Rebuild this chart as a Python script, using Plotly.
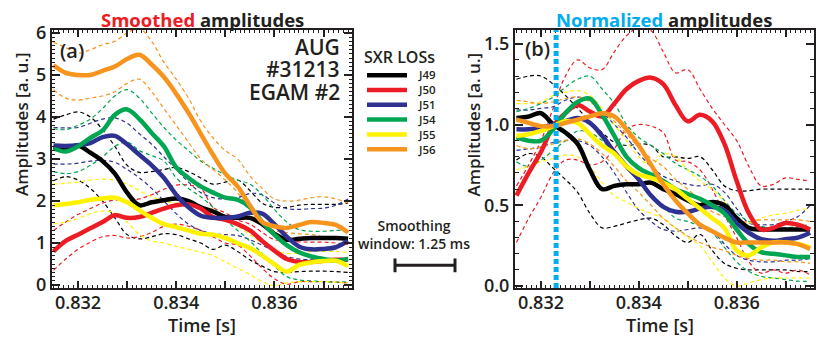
import plotly.graph_objects as go

# time base (s)
TIME = [0.8315, 0.83175, 0.832, 0.83225, 0.8325, 0.83275, 0.833, 0.83325, 0.8335,
        0.83375, 0.834, 0.83425, 0.8345, 0.83475, 0.835, 0.83525, 0.8355, 0.83575,
        0.836, 0.83625, 0.8365, 0.83675, 0.837, 0.83725, 0.8375]

CHANNELS = ["J49", "J50", "J51", "J54", "J55", "J56"]

# ---- (a) smoothed amplitudes: mean, upper, lower
SM_J49 = [3.28, 3.25, 3.32, 3.15, 2.95, 2.65, 2.2, 1.9, 1.97, 2.02, 2.06, 2.0, 1.85,
          1.75, 1.62, 1.6, 1.6, 1.45, 1.22, 1.08, 1.1, 1.12, 1.12, 1.12, 1.1]
SM_J49_HI = [3.95, 4.05, 4.12, 4.0, 3.7, 3.3, 2.85, 2.68, 2.7, 2.75, 2.8, 2.7, 2.55,
             2.4, 2.45, 2.5, 2.25, 1.95, 1.85, 1.85, 1.9, 1.92, 1.92, 1.92, 1.95]
SM_J49_LO = [2.48, 2.58, 2.5, 2.3, 2.0, 1.6, 1.2, 1.1, 1.15, 1.22, 1.2, 1.1, 1.0,
             0.85, 0.95, 0.8, 0.6, 0.45, 0.32, 0.3, 0.32, 0.33, 0.33, 0.32, 0.3]

SM_J50 = [0.8, 1.05, 1.2, 1.35, 1.5, 1.66, 1.6, 1.62, 1.72, 1.82, 1.9, 1.92, 1.82,
          1.62, 1.55, 1.45, 1.3, 1.05, 0.82, 0.62, 0.55, 0.55, 0.58, 0.6, 0.6]
SM_J50_HI = [1.3, 1.5, 1.68, 1.82, 1.95, 2.02, 2.0, 2.05, 2.15, 2.28, 2.38, 2.38, 2.3,
             1.85, 1.72, 1.55, 1.45, 1.25, 1.08, 1.05, 1.03, 1.02, 1.02, 1.0, 0.97]
SM_J50_LO = [0.35, 0.62, 0.85, 1.02, 1.15, 1.18, 1.12, 1.15, 1.25, 1.4, 1.45, 1.4, 1.3,
             1.15, 1.0, 0.95, 0.7, 0.4, 0.15, 0.02, 0.08, 0.08, 0.08, 0.07, 0.05]

SM_J51 = [3.32, 3.31, 3.33, 3.38, 3.52, 3.55, 3.35, 3.1, 2.85, 2.55, 2.15, 1.85, 1.65,
          1.6, 1.6, 1.63, 1.72, 1.7, 1.45, 1.15, 0.92, 0.85, 0.86, 0.9, 1.05]
SM_J51_HI = [3.75, 3.74, 3.75, 3.85, 3.95, 3.98, 3.85, 3.6, 3.35, 3.05, 2.75, 2.45, 2.2,
             2.08, 2.05, 2.08, 2.18, 2.15, 1.95, 1.82, 1.8, 1.82, 1.83, 1.9, 2.05]
SM_J51_LO = [2.88, 2.88, 2.9, 2.95, 2.97, 2.92, 2.75, 2.55, 2.3, 2.0, 1.7, 1.45, 1.3,
             1.22, 1.2, 1.18, 1.08, 0.95, 0.8, 0.68, 0.62, 0.6, 0.6, 0.62, 0.65]

SM_J54 = [3.25, 3.18, 3.3, 3.5, 3.68, 4.05, 4.18, 3.95, 3.62, 3.3, 2.8, 2.55, 2.35,
          2.2, 2.08, 2.03, 1.85, 1.5, 1.2, 0.95, 0.78, 0.68, 0.62, 0.58, 0.62]
SM_J54_HI = [3.72, 3.7, 3.8, 3.95, 4.2, 4.5, 4.65, 4.45, 4.1, 3.75, 3.45, 3.2, 2.95,
             2.78, 2.62, 2.5, 2.4, 2.15, 1.8, 1.5, 1.32, 1.28, 1.28, 1.3, 1.3]
SM_J54_LO = [2.7, 2.65, 2.7, 2.85, 3.05, 3.3, 3.4, 3.2, 3.08, 2.95, 2.55, 2.3, 2.1,
             1.85, 1.55, 1.3, 1.05, 0.75, 0.45, 0.2, 0.12, 0.1, 0.08, 0.07, 0.08]

SM_J55 = [1.9, 1.93, 1.97, 2.03, 2.06, 2.08, 1.97, 1.78, 1.6, 1.45, 1.38, 1.3, 1.22,
          1.2, 1.12, 1.0, 0.88, 0.7, 0.5, 0.32, 0.48, 0.54, 0.57, 0.58, 0.45]
SM_J55_HI = [2.4, 2.42, 2.45, 2.5, 2.52, 2.5, 2.4, 2.25, 2.1, 2.0, 1.95, 1.9, 1.87,
             1.8, 1.6, 1.4, 1.2, 1.0, 0.82, 0.75, 0.76, 0.8, 0.8, 0.8, 0.78]
SM_J55_LO = [1.45, 1.5, 1.58, 1.7, 1.76, 1.72, 1.5, 1.2, 1.05, 1.0, 0.92, 0.85, 0.78,
             0.7, 0.55, 0.4, 0.25, 0.08, -0.02, 0.05, 0.08, 0.08, 0.08, 0.07, 0.05]

SM_J56 = [5.23, 5.05, 5.0, 5.0, 5.1, 5.2, 5.38, 5.48, 5.25, 4.95, 4.55, 4.1, 3.6,
          3.1, 2.65, 2.35, 1.9, 1.5, 1.4, 1.36, 1.43, 1.5, 1.48, 1.43, 1.25]
SM_J56_HI = [5.78, 5.65, 5.52, 5.6, 5.72, 5.8, 6.0, 6.1, 5.8, 5.3, 4.9, 4.45, 3.9,
             3.5, 3.2, 3.0, 2.6, 2.3, 2.05, 2.0, 2.02, 2.08, 2.1, 2.05, 1.95]
SM_J56_LO = [4.65, 4.45, 4.4, 4.45, 4.5, 4.6, 4.8, 4.9, 4.6, 4.2, 3.8, 3.4, 3.0,
             2.75, 2.5, 2.2, 1.8, 1.45, 1.3, 1.25, 1.22, 1.2, 1.15, 1.12, 1.05]

# ---- (b) normalized amplitudes: mean, upper, lower
NM_J49 = [1.04, 1.05, 1.07, 1.0, 0.95, 0.88, 0.72, 0.6, 0.62, 0.63, 0.63, 0.64, 0.6,
          0.57, 0.53, 0.5, 0.52, 0.5, 0.42, 0.36, 0.35, 0.35, 0.35, 0.35, 0.35]
NM_J49_HI = [1.28, 1.3, 1.3, 1.25, 1.18, 1.1, 1.02, 0.95, 0.89, 0.87, 0.88, 0.87, 0.8,
             0.8, 0.79, 0.8, 0.72, 0.62, 0.59, 0.59, 0.6, 0.6, 0.6, 0.6, 0.6]
NM_J49_LO = [0.78, 0.82, 0.8, 0.73, 0.66, 0.58, 0.45, 0.36, 0.37, 0.39, 0.41, 0.42, 0.38,
             0.31, 0.27, 0.32, 0.22, 0.14, 0.11, 0.1, 0.1, 0.1, 0.1, 0.09, 0.09]

NM_J50 = [0.56, 0.7, 0.83, 0.99, 1.07, 1.12, 1.08, 1.05, 1.13, 1.22, 1.27, 1.29, 1.25,
          1.12, 1.02, 1.06, 1.02, 0.88, 0.65, 0.45, 0.35, 0.36, 0.39, 0.38, 0.35]
NM_J50_HI = [0.62, 0.75, 0.9, 1.1, 1.3, 1.4, 1.35, 1.34, 1.45, 1.55, 1.6, 1.58, 1.45,
             1.32, 1.34, 1.22, 1.1, 1.0, 0.9, 0.74, 0.62, 0.63, 0.67, 0.66, 0.65]
NM_J50_LO = [0.27, 0.42, 0.55, 0.7, 0.78, 0.78, 0.75, 0.77, 0.85, 0.97, 1.0, 0.99, 0.95,
             0.78, 0.77, 0.72, 0.6, 0.44, 0.3, 0.15, 0.08, 0.1, 0.08, 0.1, 0.07]

NM_J51 = [0.97, 0.97, 0.98, 1.0, 1.02, 1.04, 1.01, 0.93, 0.83, 0.74, 0.66, 0.56, 0.49,
          0.46, 0.46, 0.48, 0.49, 0.47, 0.39, 0.33, 0.29, 0.28, 0.29, 0.3, 0.33]
NM_J51_HI = [1.09, 1.09, 1.1, 1.11, 1.15, 1.17, 1.15, 1.08, 1.0, 0.92, 0.82, 0.74, 0.68,
             0.65, 0.63, 0.62, 0.63, 0.58, 0.48, 0.39, 0.38, 0.38, 0.4, 0.43, 0.5]
NM_J51_LO = [0.84, 0.85, 0.86, 0.89, 0.9, 0.9, 0.87, 0.8, 0.7, 0.58, 0.47, 0.4, 0.35,
             0.34, 0.35, 0.36, 0.34, 0.26, 0.19, 0.16, 0.15, 0.15, 0.16, 0.16, 0.17]

NM_J54 = [0.92, 0.9, 0.9, 0.97, 1.07, 1.14, 1.16, 1.06, 0.93, 0.8, 0.73, 0.69, 0.65,
          0.6, 0.57, 0.54, 0.5, 0.45, 0.35, 0.26, 0.21, 0.2, 0.19, 0.18, 0.18]
NM_J54_HI = [1.08, 1.1, 1.13, 1.17, 1.23, 1.28, 1.3, 1.22, 1.13, 1.0, 0.92, 0.87, 0.82,
             0.76, 0.72, 0.68, 0.62, 0.53, 0.45, 0.4, 0.37, 0.36, 0.36, 0.37, 0.38]
NM_J54_LO = [0.77, 0.74, 0.78, 0.84, 0.9, 0.96, 0.95, 0.9, 0.82, 0.73, 0.65, 0.57, 0.5,
             0.42, 0.4, 0.37, 0.33, 0.24, 0.15, 0.09, 0.06, 0.05, 0.04, 0.03, 0.03]

NM_J55 = [0.93, 0.94, 0.96, 0.99, 1.02, 1.01, 0.94, 0.87, 0.82, 0.74, 0.69, 0.67, 0.64,
          0.6, 0.54, 0.48, 0.42, 0.36, 0.22, 0.19, 0.24, 0.27, 0.27, 0.26, 0.24]
NM_J55_HI = [1.13, 1.13, 1.14, 1.18, 1.2, 1.21, 1.18, 1.1, 1.0, 0.9, 0.8, 0.75, 0.82,
             0.8, 0.72, 0.65, 0.6, 0.52, 0.42, 0.39, 0.42, 0.44, 0.45, 0.47, 0.48]
NM_J55_LO = [0.72, 0.74, 0.77, 0.79, 0.81, 0.8, 0.74, 0.64, 0.56, 0.52, 0.48, 0.45, 0.42,
             0.36, 0.3, 0.25, 0.15, 0.05, 0.0, 0.02, 0.04, 0.05, 0.05, 0.05, 0.05]

NM_J56 = [1.03, 1.01, 0.99, 0.99, 1.01, 1.03, 1.05, 1.07, 1.05, 0.97, 0.87, 0.75, 0.63,
          0.53, 0.45, 0.38, 0.34, 0.3, 0.27, 0.27, 0.27, 0.27, 0.27, 0.26, 0.23]
NM_J56_HI = [1.15, 1.14, 1.13, 1.14, 1.16, 1.17, 1.14, 1.08, 1.02, 0.94, 0.86, 0.79, 0.74,
             0.66, 0.6, 0.53, 0.46, 0.43, 0.4, 0.4, 0.41, 0.41, 0.41, 0.41, 0.4]
NM_J56_LO = [0.87, 0.85, 0.86, 0.88, 0.9, 0.91, 0.88, 0.82, 0.74, 0.65, 0.58, 0.5, 0.42,
             0.36, 0.31, 0.27, 0.24, 0.22, 0.19, 0.17, 0.16, 0.16, 0.15, 0.15, 0.14]

T_REF = 0.83231  # normalisation time
X_TICKS = [0.832, 0.833, 0.834, 0.835, 0.836, 0.837]
X_TICKTEXT = ["0.832", "", "0.834", "", "0.836", ""]

smoothed = {
    "J49": (SM_J49, SM_J49_HI, SM_J49_LO),
    "J50": (SM_J50, SM_J50_HI, SM_J50_LO),
    "J51": (SM_J51, SM_J51_HI, SM_J51_LO),
    "J54": (SM_J54, SM_J54_HI, SM_J54_LO),
    "J55": (SM_J55, SM_J55_HI, SM_J55_LO),
    "J56": (SM_J56, SM_J56_HI, SM_J56_LO),
}
normalized = {
    "J49": (NM_J49, NM_J49_HI, NM_J49_LO),
    "J50": (NM_J50, NM_J50_HI, NM_J50_LO),
    "J51": (NM_J51, NM_J51_HI, NM_J51_LO),
    "J54": (NM_J54, NM_J54_HI, NM_J54_LO),
    "J55": (NM_J55, NM_J55_HI, NM_J55_LO),
    "J56": (NM_J56, NM_J56_HI, NM_J56_LO),
}

colores = {
    "J49": "#000000",
    "J50": "#ED1C24",
    "J51": "#2E3192",
    "J54": "#00A651",
    "J55": "#FFF200",
    "J56": "#F7941D",
}
CYAN = "#00AEEF"
INK = "#231F20"
FONT = "Open Sans"

fig = go.Figure()

for data, xa, ya in [(smoothed, "x", "y"), (normalized, "x2", "y2")]:
    # dashed spread first, then the thick means on top
    for ch in CHANNELS:
        mean, hi, lo = data[ch]
        for band in (hi, lo):
            fig.add_trace(go.Scatter(
                x=TIME, y=band, xaxis=xa, yaxis=ya, mode="lines",
                line=dict(color=colores[ch], width=1.2, dash="4px,3px",
                          shape="spline", smoothing=1.0),
                showlegend=False, hoverinfo="skip",
            ))
    for ch in CHANNELS:
        mean, hi, lo = data[ch]
        fig.add_trace(go.Scatter(
            x=TIME, y=mean, xaxis=xa, yaxis=ya, mode="lines", name=ch,
            line=dict(color=colores[ch], width=4.5, shape="spline", smoothing=1.0),
            showlegend=False,
        ))


# positions below are measured on the 830x338 reference; the page adds an 8px body margin
def px_x(p):
    return (p - 52) / 762


def px_y(p):
    return (288 - p) / 262


eixo_x = dict(
    range=[0.83147, 0.83758], tickmode="array", tickvals=X_TICKS, ticktext=X_TICKTEXT,
    ticks="inside", ticklen=7, tickwidth=1.5, tickcolor=INK,
    minor=dict(dtick=0.0001, tick0=0.832, ticks="inside", ticklen=3, tickwidth=1, tickcolor=INK),
    showline=True, linewidth=2, linecolor=INK, mirror="ticks",
    showgrid=False, zeroline=False, ticklabelstandoff=-3,
    tickfont=dict(family=FONT, size=18, color=INK, weight=600),
)

fig.update_layout(
    width=822, height=330,
    margin=dict(l=44, r=16, t=18, b=50),
    paper_bgcolor="white", plot_bgcolor="white",
    showlegend=False,
    xaxis=dict(eixo_x, domain=[0, 0.3937], anchor="y"),
    xaxis2=dict(eixo_x, domain=[0.6076, 1.0], anchor="y2"),
    yaxis=dict(
        range=[-0.07, 6.07], dtick=1, tick0=0, domain=[0, 1], anchor="x",
        ticks="inside", ticklen=8, tickwidth=1.5, tickcolor=INK,
        minor=dict(dtick=0.1, ticks="inside", ticklen=3, tickwidth=1, tickcolor=INK),
        showline=True, linewidth=2, linecolor=INK, mirror="ticks",
        showgrid=False, zeroline=False,
        tickfont=dict(family=FONT, size=18, color=INK, weight=600),
    ),
    yaxis2=dict(
        range=[-0.012, 1.585], dtick=0.5, tick0=0, tickformat=".1f", domain=[0, 1], anchor="x2",
        ticks="inside", ticklen=8, tickwidth=1.5, tickcolor=INK,
        minor=dict(dtick=0.1, ticks="inside", ticklen=4, tickwidth=1, tickcolor=INK),
        showline=True, linewidth=2, linecolor=INK, mirror="ticks",
        showgrid=False, zeroline=False,
        tickfont=dict(family=FONT, size=18, color=INK, weight=600),
    ),
)

# normalisation instant
fig.add_shape(type="line", xref="x2", yref="y2 domain", x0=T_REF, x1=T_REF, y0=0, y1=1,
              line=dict(color=CYAN, width=5, dash="5px,3px"))

txt = dict(family=FONT, color=INK, weight=600)
anots = [
    dict(x=px_x(202), y=px_y(15), text="<span style='color:#ED1C24'>Smoothed</span> amplitudes",
         font=dict(txt, size=18.5, weight=700), xanchor="center", yanchor="middle"),
    dict(x=px_x(664), y=px_y(15), text=f"<span style='color:{CYAN}'>Normalized</span> amplitudes",
         font=dict(txt, size=18.5, weight=700), xanchor="center", yanchor="middle"),
    dict(x=px_x(58), y=px_y(47), text="(a)", font=dict(txt, size=20), xanchor="left", yanchor="middle"),
    dict(x=px_x(523), y=px_y(45), text="(b)", font=dict(txt, size=20), xanchor="left", yanchor="middle"),
    dict(x=px_x(342), y=px_y(43), text="AUG", font=dict(txt, size=21), xanchor="right", yanchor="middle"),
    dict(x=px_x(342), y=px_y(66), text="#31213", font=dict(txt, size=21), xanchor="right", yanchor="middle"),
    dict(x=px_x(342), y=px_y(89), text="EGAM #2", font=dict(txt, size=21), xanchor="right", yanchor="middle"),
    dict(x=px_x(8), y=px_y(122), text="Amplitudes [a. u.]", textangle=-90,
         font=dict(txt, size=17), xanchor="left", yanchor="middle"),
    dict(x=px_x(474), y=px_y(122), text="Amplitudes [a. u.]", textangle=-90,
         font=dict(txt, size=17), xanchor="center", yanchor="middle"),
    dict(x=px_x(202), y=px_y(326), text="Time [s]", font=dict(txt, size=18),
         xanchor="center", yanchor="middle"),
    dict(x=px_x(660), y=px_y(326), text="Time [s]", font=dict(txt, size=18),
         xanchor="center", yanchor="middle"),
    dict(x=px_x(362), y=px_y(53), text="SXR LOSs", font=dict(txt, size=16),
         xanchor="left", yanchor="middle"),
    dict(x=px_x(414), y=px_y(234), text="Smoothing<br>window: 1.25 ms", align="center",
         font=dict(txt, size=14), xanchor="center", yanchor="middle"),
]

# hand-drawn legend: one text block, sample lines on the same 15px rows
LEG_ROWS = [72, 87, 102, 117, 132, 147]
for ch, row in zip(CHANNELS, LEG_ROWS):
    fig.add_shape(type="line", xref="paper", yref="paper",
                  x0=px_x(367), x1=px_x(407), y0=px_y(row), y1=px_y(row),
                  line=dict(color=colores[ch], width=4.5))
anots.append(dict(x=px_x(416), y=px_y(109.5), text="<br>".join(CHANNELS), align="left",
                  font=dict(txt, size=11.5), xanchor="left", yanchor="middle"))

for a in anots:
    fig.add_annotation(a, xref="paper", yref="paper", showarrow=False)

# smoothing-window scale bar
for x0, x1, y0, y1 in [(395, 455, 265, 265), (395, 395, 258, 272), (455, 455, 258, 272)]:
    fig.add_shape(type="line", xref="paper", yref="paper",
                  x0=px_x(x0), x1=px_x(x1), y0=px_y(y0), y1=px_y(y1),
                  line=dict(color=INK, width=3))

fig.write_html("out.html")
